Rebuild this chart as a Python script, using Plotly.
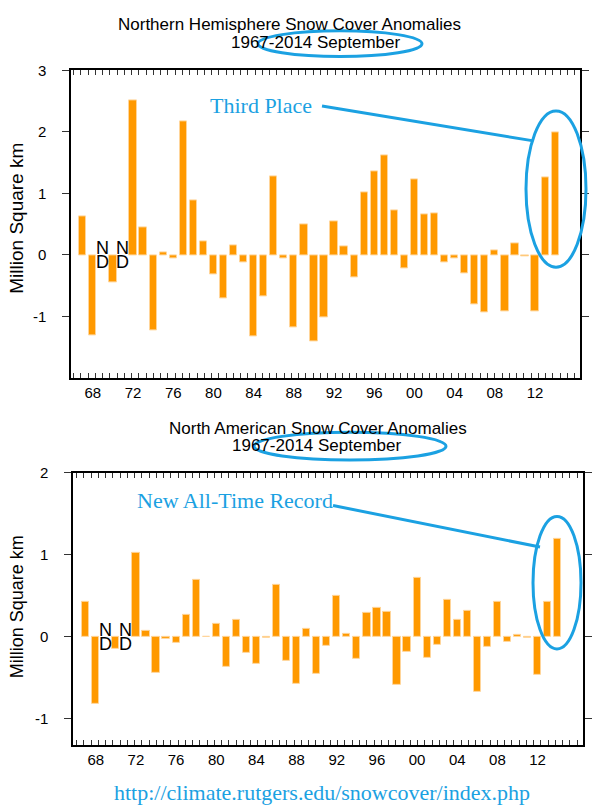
import plotly.graph_objects as go

years = list(range(1967, 2015))
nh_anom = [0.63, -1.31, None, -0.44, None, 2.52, 0.44, -1.23, 0.04, -0.06,
           2.17, 0.88, 0.22, -0.32, -0.70, 0.16, -0.12, -1.32, -0.68, 1.28,
           -0.06, -1.18, 0.50, -1.40, -1.02, 0.55, 0.14, -0.36, 1.02, 1.36,
           1.62, 0.72, -0.22, 1.22, 0.66, 0.68, -0.12, -0.06, -0.30, -0.80,
           -0.94, 0.08, -0.92, 0.18, -0.02, -0.92, 1.26, 2.00]
na_anom = [0.42, -0.82, None, -0.15, None, 1.02, 0.07, -0.44, -0.03, -0.08,
           0.27, 0.69, 0.0, 0.16, -0.37, 0.21, -0.20, -0.33, -0.01, 0.63,
           -0.29, -0.57, 0.10, -0.45, -0.11, 0.50, 0.04, -0.27, 0.29, 0.35,
           0.30, -0.59, -0.18, 0.72, -0.26, -0.10, 0.45, 0.21, 0.31, -0.67,
           -0.12, 0.42, -0.06, 0.02, -0.01, -0.47, 0.42, 1.19]
nodata_years = [1969, 1971]
xtick_years = list(range(1968, 2013, 4))
xtick_text = ["68", "72", "76", "80", "84", "88", "92", "96", "00", "04", "08", "12"]
nh_yticks = [-1, 0, 1, 2, 3]
na_yticks = [-1, 0, 1, 2]

W, H = 600, 808
OFF = 8  # page body margin pushes the figure 8px right/down
ORANGE = "#FF9900"
BLUE = "#1BA1E2"
SANS = "Liberation Sans, Arial"
SERIF = "Liberation Serif, Times New Roman"

def px(x):
    return (x - OFF) / W

def py(y):
    return 1 - (y - OFF) / H

fig = go.Figure()
fig.add_trace(go.Bar(x=years, y=nh_anom, width=0.72, marker_color=ORANGE,
                     marker_line=dict(color="#FFD59A", width=1), xaxis="x", yaxis="y"))
fig.add_trace(go.Bar(x=years, y=na_anom, width=0.72, marker_color=ORANGE,
                     marker_line=dict(color="#FFD59A", width=1), xaxis="x2", yaxis="y2"))

xcommon = dict(tickvals=xtick_years, ticktext=xtick_text, ticks="", showline=True,
               linecolor="black", linewidth=1.5, mirror="ticks", showgrid=False,
               zeroline=False, tickfont=dict(family=SANS, size=15, color="black"),
               minor=dict(ticks="inside", tick0=1967.53, dtick=0.7225, ticklen=5,
                          tickcolor="#333", tickwidth=1, showgrid=False))
ycommon = dict(ticks="outside", ticklen=7, tickcolor="#333", showline=True,
               linecolor="black", linewidth=1.5, mirror="ticks", showgrid=False,
               zeroline=False, ticklabelstandoff=13,
               tickfont=dict(family=SANS, size=15, color="black"))

fig.update_layout(
    width=W, height=H, margin=dict(l=0, r=0, t=0, b=0),
    paper_bgcolor="white", plot_bgcolor="white", showlegend=False, bargap=0,
    xaxis=dict(domain=[px(71), px(580)], range=[1965.83, 2016.47], anchor="y", **xcommon),
    yaxis=dict(domain=[py(373), py(62)], range=[-2, 3], anchor="x",
               tickvals=nh_yticks, ticktext=[str(v) for v in nh_yticks], **ycommon),
    xaxis2=dict(domain=[px(73), px(583)], range=[1965.73, 2016.52], anchor="y2", **xcommon),
    yaxis2=dict(domain=[py(744), py(469)], range=[-1.32, 2], anchor="x2",
                tickvals=na_yticks, ticktext=[str(v) for v in na_yticks], **ycommon),
)

def text(x, y, s, size, family=SANS, color="black", angle=0):
    fig.add_annotation(x=px(x), y=py(y), xref="paper", yref="paper", text=s,
                       showarrow=False, textangle=angle, xanchor="center", yanchor="middle",
                       font=dict(family=family, size=size, color=color))

# titles
text(289, 16, "Northern Hemisphere Snow Cover Anomalies", 17)
text(316, 34, "1967-2014 September", 17)
text(318, 424, "North American Snow Cover Anomalies", 17)
text(317, 441, "1967-2014 September", 17)
# y axis titles
text(17, 212, "Million Square km", 19, angle=-90)
text(17, 605, "Million Square km", 18, angle=-90)

# ND markers for missing years
for yr in nodata_years:
    for xa, ya in [("x", "y"), ("x2", "y2")]:
        fig.add_annotation(x=yr, y=0, xref=xa, yref=ya, text="N", showarrow=False,
                           yanchor="bottom", yshift=-5, font=dict(family=SANS, size=18, color="black"))
        fig.add_annotation(x=yr, y=0, xref=xa, yref=ya, text="D", showarrow=False,
                           yanchor="top", yshift=5, font=dict(family=SANS, size=18, color="black"))

# callouts
text(261, 98, "Third Place", 22, family=SERIF, color=BLUE)
text(235, 497, "New All-Time Record", 22, family=SERIF, color=BLUE)
text(322, 792, "http://climate.rutgers.edu/snowcover/index.php", 22, family=SERIF, color=BLUE)

def line(x0, y0, x1, y1):
    fig.add_shape(type="line", xref="paper", yref="paper", x0=px(x0), y0=py(y0),
                  x1=px(x1), y1=py(y1), line=dict(color=BLUE, width=3))

def ellipse(cx, cy, rx, ry):
    fig.add_shape(type="circle", xref="paper", yref="paper", x0=px(cx - rx), x1=px(cx + rx),
                  y0=py(cy + ry), y1=py(cy - ry), line=dict(color=BLUE, width=3))

line(322, 98, 532, 133)
ellipse(556, 182, 30, 79)
ellipse(340, 35, 82, 13)
line(333, 502, 540, 544)
ellipse(557, 580, 24, 67)
ellipse(350, 442, 96, 14)

fig.write_html("out.html")
